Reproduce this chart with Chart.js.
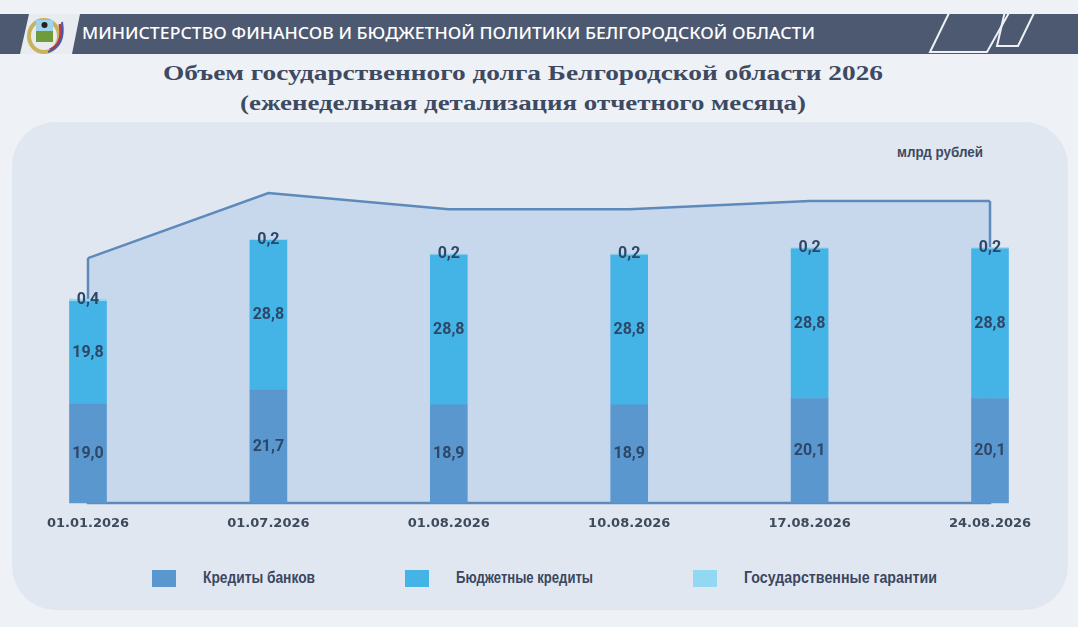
<!DOCTYPE html>
<html lang="ru">
<head>
<meta charset="UTF-8">
<title>Объем государственного долга Белгородской области 2026</title>
<script src="https://cdn.jsdelivr.net/npm/chart.js@4"></script>
<style>
  body { margin: 0; width: 1078px; height: 627px; background: #eef1f6; position: relative; overflow: hidden; }
  #bar { position: absolute; left: 0; top: 14px; width: 1078px; height: 40px; background: #4d5971; }
  #emblem { position: absolute; left: 20px; top: 14px; width: 60px; height: 40px; }
  #head { position: absolute; left: 82px; top: 24px; font: 500 17px/17px "Noto Sans", sans-serif; color: #fff; white-space: nowrap; transform-origin: left center; }
  #deco { position: absolute; left: 900px; top: 5px; }
  .t { position: absolute; font: bold 20px/20px "Liberation Serif", serif; color: #3d4a62; white-space: nowrap; transform-origin: left center; }
  #panel { position: absolute; left: 12px; top: 122px; width: 1056px; height: 488px; background: #e1e7f1; border-radius: 44px; }
  #unit { position: absolute; left: 897px; top: 144px; font: bold 15px/15px "Liberation Sans Narrow", sans-serif; color: #3d4a62; white-space: nowrap; transform-origin: left center; }
  .lg { position: absolute; top: 570px; height: 17px; }
  .lg i { position: absolute; left: 0; top: 0; width: 24px; height: 17px; }
  .lg span { position: absolute; left: 51px; top: 0; font: bold 16px/16px "Liberation Sans Narrow", sans-serif; color: #3b4760; white-space: nowrap; transform-origin: left center; }
  canvas { position: absolute; left: 0; top: 0; }
</style>
</head>
<body>
<div id="bar"></div>
<svg id="emblem" width="60" height="40" viewBox="0 0 60 40">
  <polygon points="9,0 60,0 52,40 0,40" fill="#e8ebf0"/>
  <ellipse cx="24" cy="22" rx="15" ry="16" fill="none" stroke="#c9b35a" stroke-width="4"/>
  <path d="M30 36 Q44 30 40 10" fill="none" stroke="#c2304a" stroke-width="3"/>
  <path d="M28 38 Q46 32 42 8" fill="none" stroke="#3f5fb0" stroke-width="2"/>
  <rect x="16" y="6" width="17" height="22" fill="#9fd4ea"/>
  <rect x="16" y="17" width="17" height="11" fill="#6f9b3a"/>
  <circle cx="24.5" cy="11" r="3" fill="#222"/>
</svg>
<div id="head">МИНИСТЕРСТВО ФИНАНСОВ И БЮДЖЕТНОЙ ПОЛИТИКИ БЕЛГОРОДСКОЙ ОБЛАСТИ</div>
<svg id="deco" width="178" height="50">
  <polyline points="50,6 30,47 87,47 110,6" fill="none" stroke="#eef1f6" stroke-width="2"/>
  <polyline points="105,6 97,41 118,41 135,6" fill="none" stroke="#eef1f6" stroke-width="2"/>
</svg>
<div class="t" id="t1" style="left:163px;top:63px">Объем государственного долга Белгородской области 2026</div>
<div class="t" id="t2" style="left:240px;top:93px">(еженедельная детализация отчетного месяца)</div>
<div id="panel"></div>
<div id="unit">млрд рублей</div>
<div id="legend"></div>
<canvas id="myChart" width="1078" height="627"></canvas>
<script>
  const dates = ['01.01.2026', '01.07.2026', '01.08.2026', '10.08.2026', '17.08.2026', '24.08.2026'];
  const bankCredits = [19.0, 21.7, 18.9, 18.9, 20.1, 20.1];
  const budgetCredits = [19.8, 28.8, 28.8, 28.8, 28.8, 28.8];
  const guarantees = [0.4, 0.2, 0.2, 0.2, 0.2, 0.2];
  const areaShape = [47.1, 59.6, 56.5, 56.5, 58.1, 58.1];
  const seriesNames = ['Кредиты банков', 'Бюджетные кредиты', 'Государственные гарантии'];

  const colors = ['#5b97cf', '#44b4e7', '#93d8f2'];

  // squeeze the html texts to the widths seen in the picture
  function fit(id, w) {
    const el = document.getElementById(id);
    el.style.transform = 'scaleX(' + (w / el.getBoundingClientRect().width) + ')';
  }
  fit('head', 733);
  fit('t1', 720);
  fit('t2', 566);
  fit('unit', 86);

  // legend
  const legendLeft = [152, 405, 693];
  const legendWidth = [112, 137, 193];
  seriesNames.forEach((name, i) => {
    const d = document.createElement('div');
    d.className = 'lg';
    d.style.left = legendLeft[i] + 'px';
    d.innerHTML = '<i style="background:' + colors[i] + '"></i><span>' + name + '</span>';
    document.getElementById('legend').appendChild(d);
    const s = d.querySelector('span');
    s.style.transform = 'scaleX(' + (legendWidth[i] / s.getBoundingClientRect().width) + ')';
  });

  // outline of the area: its sides and its bottom
  const areaEdge = {
    id: 'areaEdge',
    afterDatasetDraw(chart, args) {
      if (args.index !== 3) return;
      const pts = args.meta.data;
      const y0 = chart.scales.y.getPixelForValue(0);
      const ctx = chart.ctx;
      ctx.save();
      ctx.strokeStyle = '#5d8abb';
      ctx.lineWidth = 2.5;
      ctx.beginPath();
      ctx.moveTo(pts[0].x, pts[0].y);
      ctx.lineTo(pts[0].x, y0);
      ctx.lineTo(pts[pts.length - 1].x, y0);
      ctx.lineTo(pts[pts.length - 1].x, pts[pts.length - 1].y);
      ctx.stroke();
      ctx.restore();
    }
  };

  // value labels in the middle of each segment
  const barLabels = {
    id: 'barLabels',
    afterDatasetsDraw(chart) {
      const ctx = chart.ctx;
      ctx.save();
      ctx.font = 'bold 16px Roboto';
      ctx.fillStyle = '#2d4768';
      ctx.textAlign = 'center';
      ctx.textBaseline = 'middle';
      for (let i = 0; i < 3; i++) {
        const meta = chart.getDatasetMeta(i);
        meta.data.forEach((el, j) => {
          const v = chart.data.datasets[i].data[j];
          ctx.fillText(v.toFixed(1).replace('.', ','), el.x, (el.y + el.base) / 2);
        });
      }
      ctx.restore();
    }
  };

  const ctx = document.getElementById('myChart').getContext('2d');
  const myChart = new Chart(ctx, {
    type: 'bar',
    data: {
      labels: dates,
      datasets: [
        { label: seriesNames[0], data: bankCredits, backgroundColor: colors[0], stack: 'debt', order: 1 },
        { label: seriesNames[1], data: budgetCredits, backgroundColor: colors[1], stack: 'debt', order: 1 },
        { label: seriesNames[2], data: guarantees, backgroundColor: colors[2], stack: 'debt', order: 1 },
        {
          type: 'line',
          label: 'area',
          data: areaShape,
          stack: 'area',
          order: 10,
          fill: 'origin',
          backgroundColor: '#c8d8ec',
          borderColor: '#5d8abb',
          borderWidth: 2.5,
          tension: 0,
          pointRadius: 0,
          clip: false
        }
      ]
    },
    options: {
      responsive: false,
      animation: false,
      layout: { padding: { left: 88, right: 88, top: 191, bottom: 82.4 } },
      datasets: { bar: { barThickness: 37, clip: false } },
      plugins: { legend: { display: false }, tooltip: { enabled: false } },
      scales: {
        x: {
          stacked: true,
          offset: false,
          grid: { display: false, drawTicks: false },
          border: { display: false },
          ticks: { padding: 13, color: '#3d4a5c', font: { family: 'DejaVu Sans', weight: 'bold', size: 13 }, maxRotation: 0 }
        },
        y: { stacked: true, display: false, min: 0, max: 60 }
      }
    },
    plugins: [areaEdge, barLabels]
  });
</script>
</body>
</html>
